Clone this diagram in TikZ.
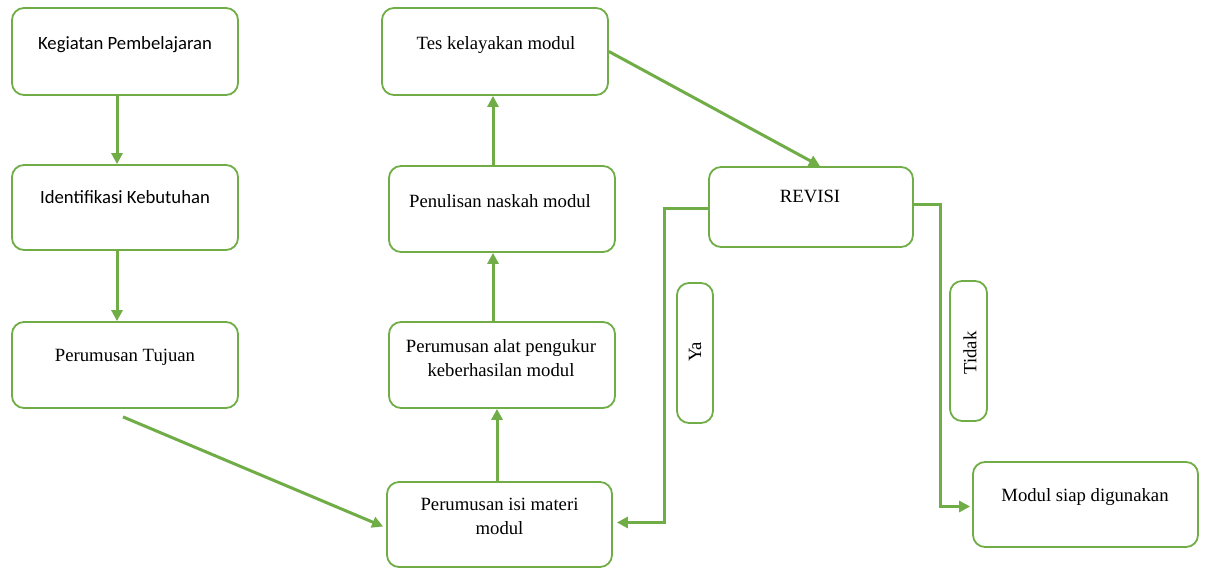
\documentclass[tikz,border=0pt]{standalone}
\usepackage{fontspec}
\setmainfont{Liberation Serif}
\newfontfamily\calibri{Carlito}
\usetikzlibrary{arrows.meta}
\definecolor{leaf}{RGB}{112,173,71}
\begin{document}
\begin{tikzpicture}[x=1pt, y=-1pt, >={Triangle[length=11pt,width=11pt]},
  box/.style={draw=leaf, line width=1.8pt, rounded corners=12pt, fill=white},
  txt/.style={font=\fontsize{18.7}{24}\selectfont, align=center, inner sep=0pt},
  flow/.style={->, draw=leaf, line width=3pt}]
\useasboundingbox[fill=white] (0,0) rectangle (1205,569);
% kotak
\node[box, minimum width=226pt, minimum height=87pt] (kegiatan) at (125,51.5) {};
\node[box, minimum width=226pt, minimum height=85pt] (identifikasi) at (125,207.5) {};
\node[box, minimum width=226pt, minimum height=86pt] (tujuan) at (125,365) {};
\node[box, minimum width=226pt, minimum height=87pt] (tes) at (495,51.5) {};
\node[box, minimum width=226pt, minimum height=86pt] (penulisan) at (502,209) {};
\node[box, minimum width=226pt, minimum height=86pt] (alat) at (502,365) {};
\node[box, minimum width=225pt, minimum height=85pt] (isi) at (499.5,524.5) {};
\node[box, minimum width=204pt, minimum height=80pt] (revisi) at (811,207) {};
\node[box, minimum width=36pt, minimum height=140pt] (ya) at (695,353) {};
\node[box, minimum width=37pt, minimum height=140pt] (tidak) at (968.5,351) {};
\node[box, minimum width=225pt, minimum height=85pt] (modul) at (1085.5,504.5) {};
% teks
\node[txt] (kegiatan-t) at (125,45) {\calibri Kegiatan Pembelajaran};
\node[txt] (identifikasi-t) at (125,197) {\calibri Identifikasi Kebutuhan};
\node[txt] (tujuan-t) at (125,357) {Perumusan Tujuan};
\node[txt] (tes-t) at (496,45) {Tes kelayakan modul};
\node[txt] (penulisan-t) at (500,201) {Penulisan naskah modul};
\node[txt] (alat-t) at (501,358) {Perumusan alat pengukur\\keberhasilan modul};
\node[txt] (isi-t) at (499.5,516.5) {Perumusan isi materi\\modul};
\node[txt] (revisi-t) at (810,196) {REVISI};
\node[txt, rotate=90] (ya-t) at (695,352) {Ya};
\node[txt, rotate=90] (tidak-t) at (970,353) {Tidak};
\node[txt] (modul-t) at (1085,497) {Modul siap digunakan};
% panah
\draw[flow] ([xshift=-8pt]kegiatan.south) -- ([xshift=-8pt]identifikasi.north);
\draw[flow] ([xshift=-8pt]identifikasi.south) -- ([xshift=-8pt]tujuan.north);
\draw[flow] ([shift={(-2,8)}]tujuan.south) -- ([shift={(-3,2)}]isi.west);
\draw[flow] ([xshift=-2.5pt]isi.north) -- ([xshift=-5pt]alat.south);
\draw[flow] ([xshift=-9pt]alat.north) -- ([xshift=-9pt]penulisan.south);
\draw[flow] ([xshift=-9pt]penulisan.north) -- ([xshift=-2pt]tes.south);
\draw[flow] (tes.east) -- ([xshift=9pt]revisi.north);
\draw[flow] ([shift={(0,2)}]revisi.west) -- ++(-44,0) |- ([shift={(4,-2)}]isi.east);
\draw[flow] ([shift={(0,-2)}]revisi.east) -- ++(27,0) |- ([shift={(-2,2)}]modul.west);
\end{tikzpicture}
\end{document}
